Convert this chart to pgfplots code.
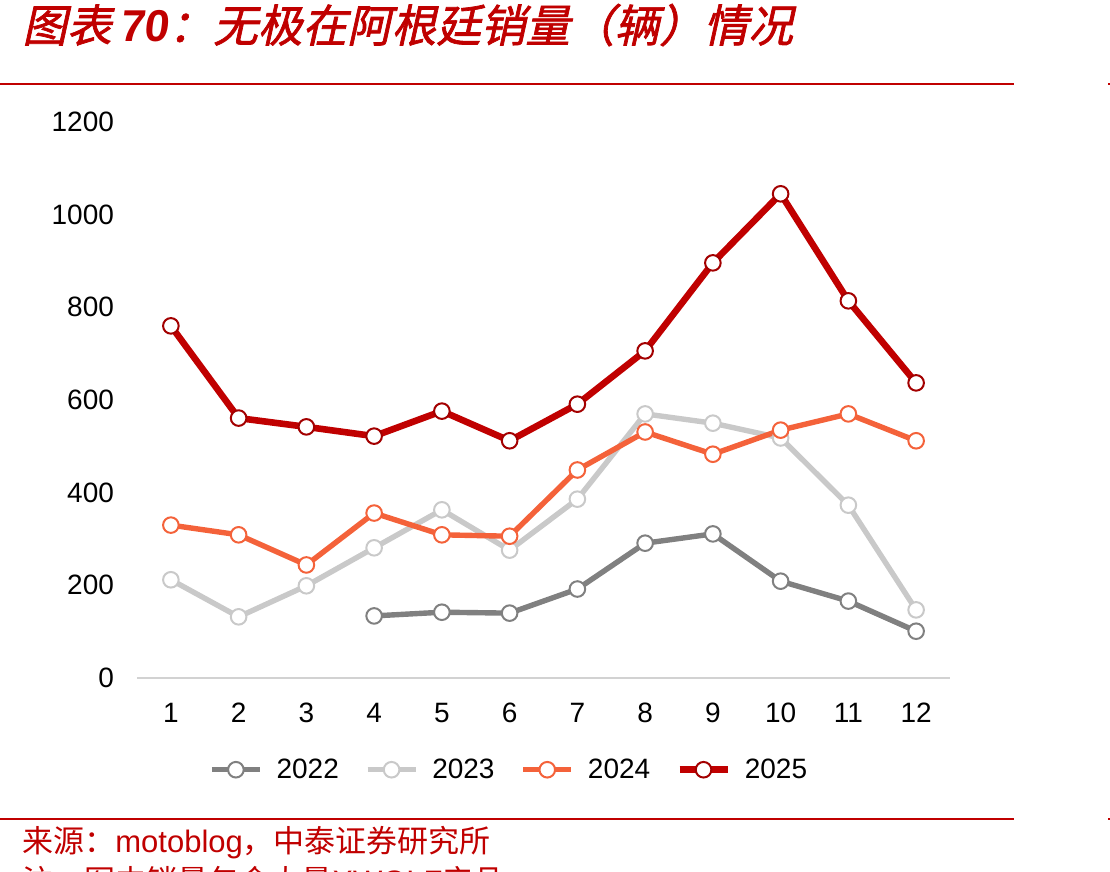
\documentclass[border=0pt]{standalone}
\usepackage{fontspec}
\setmainfont{Liberation Sans}
\newfontfamily\cjk{Noto Sans CJK SC}
\newfontfamily\cjktitle[FakeSlant=0.22,FakeBold=1.6]{Noto Sans CJK SC}
\newfontfamily\lattitle[FakeSlant=0.12]{Liberation Sans}
\usepackage{pgfplots}
\pgfplotsset{compat=1.18}
\definecolor{cA}{HTML}{808080}
\definecolor{cB}{HTML}{C9C9C9}
\definecolor{cC}{HTML}{F4623A}
\definecolor{cD}{HTML}{C00000}
\definecolor{tred}{HTML}{C00000}
\begin{document}
\begin{tikzpicture}
\useasboundingbox (0,0) rectangle (555pt,-436pt);
\clip (0,0) rectangle (555pt,-436pt);
% title
\node[anchor=base west, inner sep=0pt, text=tred] at (11pt,-21pt)
  {\fontsize{22.3}{24}\selectfont\cjktitle 图表\,{\lattitle\bfseries 70}：无极在阿根廷销量（辆）情况};
\draw[tred, line width=1pt] (0,-42pt) -- (507pt,-42pt);
\draw[tred, line width=1pt] (554pt,-42pt) -- (555pt,-42pt);
\draw[tred, line width=1pt] (0,-409.5pt) -- (507pt,-409.5pt);
\draw[tred, line width=1pt] (554pt,-409.5pt) -- (555pt,-409.5pt);
\node[anchor=base west, inner sep=0pt, text=tred] at (11pt,-426pt)
  {\fontsize{15.5}{18}\selectfont\cjk 来源：\rmfamily motoblog\cjk ，中泰证券研究所};
\node[anchor=base west, inner sep=0pt, text=tred] at (11pt,-446pt)
  {\fontsize{15.5}{18}\selectfont\cjk 注：图中销量包含大量\rmfamily XWOLF\cjk 产品};
\begin{axis}[
  at={(68.5pt,-339pt)}, anchor=south west,
  scale only axis, width=406.5pt, height=278pt,
  xmin=0.5, xmax=12.5, ymin=0, ymax=1200,
  xtick={1,...,12}, ytick={0,200,...,1200},
  axis x line=bottom, axis y line=left,
  x axis line style={draw=gray!35, line width=0.8pt, -},
  y axis line style={draw=none},
  major tick length=0pt,
  tick label style={font=\fontsize{14}{16}\selectfont, /pgf/number format/assume math mode=true},
  /pgf/number format/.cd, 1000 sep={}, /pgfplots/.cd,
  yticklabel style={xshift=-8pt},
  xticklabel style={yshift=-9pt},
  clip=false,
  every axis plot/.append style={mark=*, mark size=3.9pt},
  legend columns=4,
  legend style={draw=none, at={(0.459,-0.165)}, anchor=center,
    font=\fontsize{14}{16}\selectfont,
    /tikz/every odd column/.append style={column sep=5pt},
    /tikz/every even column/.append style={column sep=11pt},
    inner sep=0pt},
  legend image code/.code={\draw[#1, mark repeat=2, mark phase=2] plot coordinates {(0pt,0pt) (12pt,0pt) (24pt,0pt)};},
]
\addplot[cA, line width=2.7pt, mark options={fill=white, draw=cA, line width=1pt}] coordinates {
(4,134) (5,142) (6,140) (7,192) (8,291) (9,311) (10,209) (11,166) (12,101)};
\addlegendentry{2022}
\addplot[cB, line width=2.7pt, mark options={fill=white, draw=cB, line width=1pt}] coordinates {
(1,212) (2,132) (3,199) (4,281) (5,363) (6,276) (7,386) (8,570) (9,550) (10,518) (11,373) (12,147)};
\addlegendentry{2023}
\addplot[cC, line width=2.7pt, mark options={fill=white, draw=cC, line width=1pt}] coordinates {
(1,330) (2,309) (3,244) (4,356) (5,309) (6,306) (7,449) (8,531) (9,483) (10,535) (11,570) (12,512)};
\addlegendentry{2024}
\addplot[cD, line width=3.3pt, mark options={fill=white, draw=cD!85!black, line width=1pt}] coordinates {
(1,760) (2,561) (3,542) (4,522) (5,576) (6,512) (7,591) (8,706) (9,896) (10,1045) (11,814) (12,637)};
\addlegendentry{2025}
\end{axis}
\end{tikzpicture}
\end{document}
